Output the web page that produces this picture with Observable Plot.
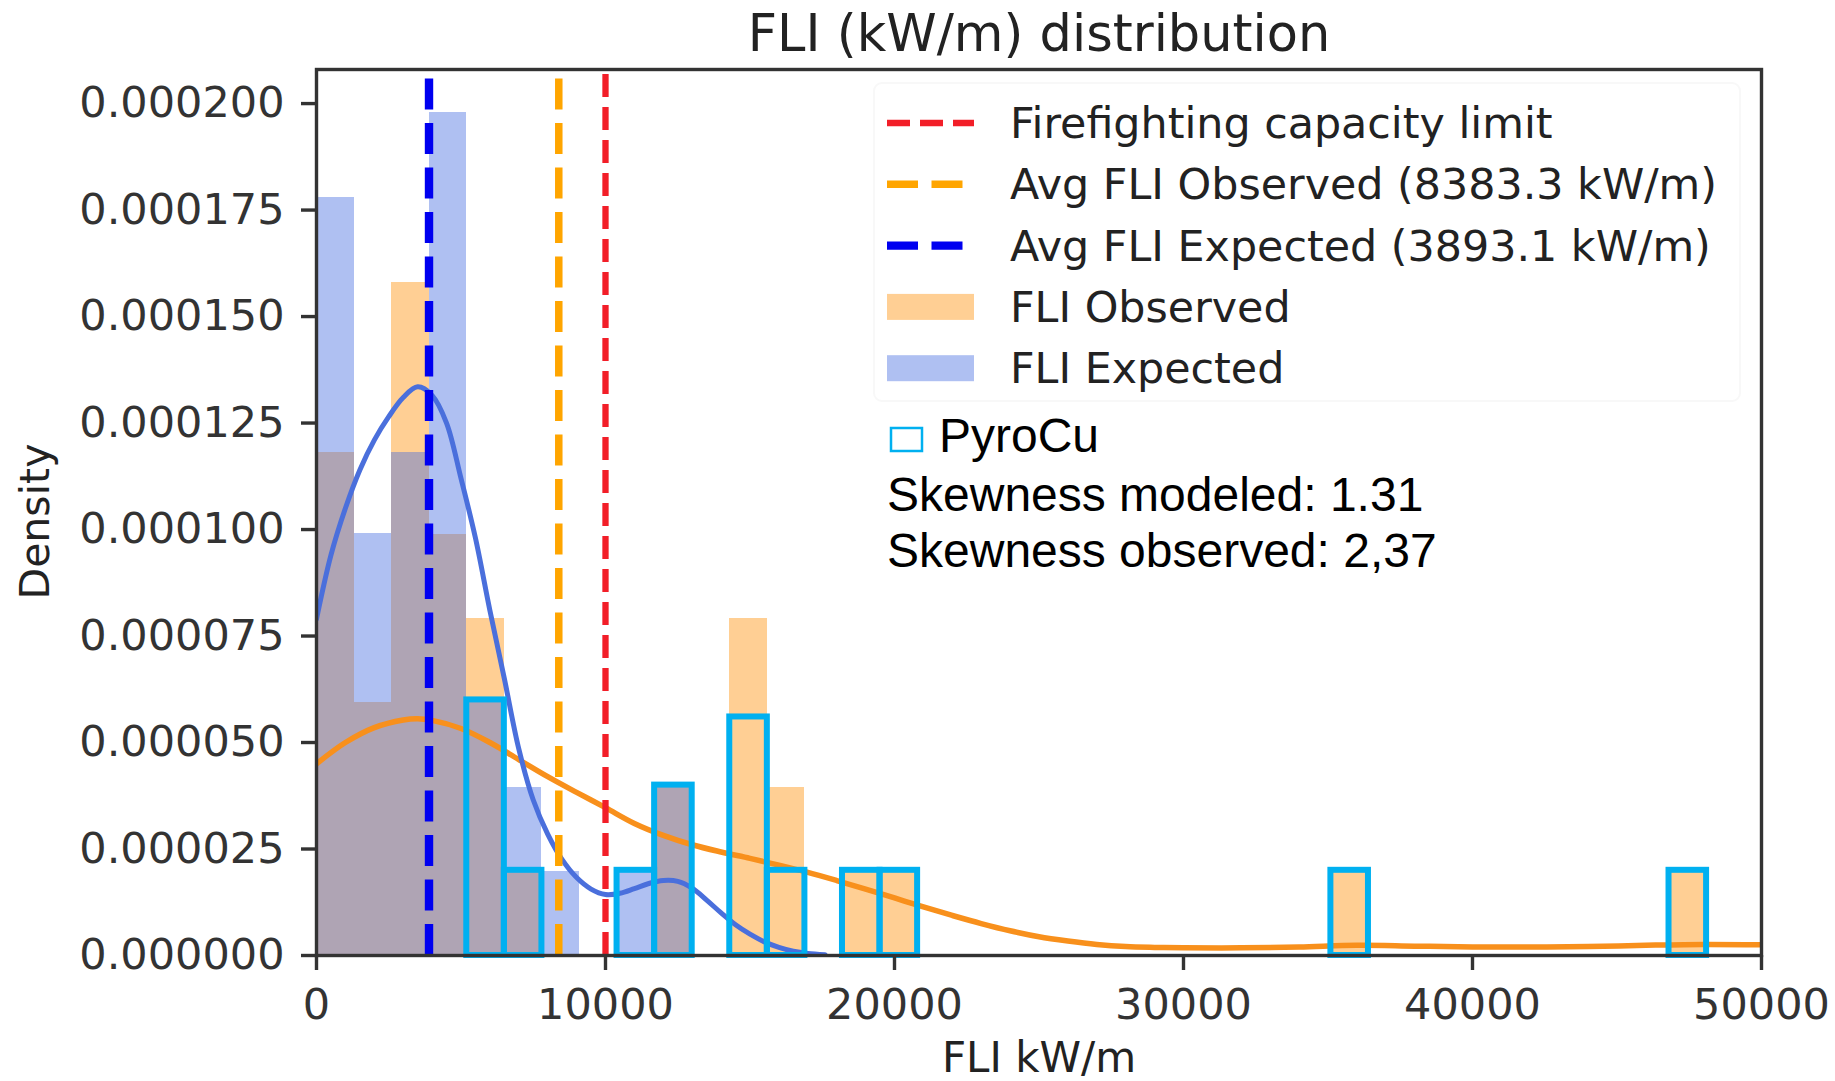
<!DOCTYPE html>
<html><head><meta charset="utf-8">
<script src="https://cdn.jsdelivr.net/npm/d3@7"></script>
<script src="https://cdn.jsdelivr.net/npm/@observablehq/plot@0.6"></script>
<style>html,body{margin:0;padding:0;background:#fff;}#chart svg{display:block;}</style>
</head><body><div id="chart"></div>
<script>
// ---- data ----
const title = "FLI (kW/m) distribution";
const xLabel = "FLI kW/m";
const yLabel = "Density";
const xTicks = [0, 10000, 20000, 30000, 40000, 50000];
const yTicks = [0, 0.000025, 0.00005, 0.000075, 0.0001, 0.000125, 0.00015, 0.000175, 0.0002];
const xDomain = [0, 50000];
const yDomain = [0, 0.000208];

// Observed histogram (density)
const obsBinLeft  = [0, 1300, 2600, 3900, 5200, 6500, 11700, 14300, 15600, 18200, 19500, 35100, 46800];
const obsBinRight = [1300, 2600, 3900, 5200, 6500, 7800, 13000, 15600, 16900, 19500, 20800, 36400, 48100];
const obsDensity  = [0.000118, 0.0000593, 0.000158, 0.0000988, 0.0000790, 0.0000198, 0.0000395, 0.0000790, 0.0000395, 0.0000198, 0.0000198, 0.0000198, 0.0000198];

// Expected histogram (density)
const expBinLeft  = [0, 1300, 2600, 3900, 5200, 6500, 7800, 10400, 11700];
const expBinRight = [1300, 2600, 3900, 5200, 6500, 7800, 9100, 11700, 13000];
const expDensity  = [0.000178, 0.0000990, 0.000118, 0.000198, 0.0000593, 0.0000395, 0.0000198, 0.0000198, 0.0000395];

// PyroCu boxes
const pyroLeft  = [5200, 6500, 10400, 11700, 14300, 15600, 18200, 19500, 35100, 46800];
const pyroRight = [6500, 7800, 11700, 13000, 15600, 16900, 19500, 20800, 36400, 48100];
const pyroDensity = [0.000060, 0.000020, 0.000020, 0.000040, 0.000056, 0.000020, 0.000020, 0.000020, 0.000020, 0.000020];

// KDE curves
const kdeObsX = [0, 1000, 2000, 3000, 3500, 4000, 5000, 6000, 7000, 8000, 9000, 10000, 11000, 12000, 13000, 14000, 15000, 16000, 17000, 18000, 19000, 20000, 21000, 22000, 23000, 24000, 25000, 26000, 27000, 28000, 29000, 30000, 32000, 34000, 36000, 38000, 40000, 42000, 44000, 46000, 48000, 50000];
const kdeObsY = [45e-6, 50e-6, 53.5e-6, 55.3e-6, 55.6e-6, 55.2e-6, 53.3e-6, 50e-6, 46e-6, 42e-6, 38.3e-6, 34.7e-6, 31e-6, 28.2e-6, 26e-6, 24.3e-6, 22.8e-6, 21.2e-6, 19.5e-6, 17.6e-6, 15.6e-6, 13.5e-6, 11.4e-6, 9.4e-6, 7.5e-6, 5.8e-6, 4.4e-6, 3.4e-6, 2.6e-6, 2.1e-6, 1.9e-6, 1.8e-6, 1.8e-6, 2.0e-6, 2.4e-6, 2.2e-6, 2.0e-6, 2.0e-6, 2.1e-6, 2.4e-6, 2.6e-6, 2.5e-6];
const kdeExpX = [0, 500, 1000, 1500, 2000, 2500, 3000, 3500, 4000, 4500, 5000, 5500, 6000, 6500, 7000, 7500, 8000, 8500, 9000, 9500, 10000, 10500, 11000, 11500, 12000, 12500, 13000, 13500, 14000, 14500, 15000, 15500, 16000, 16500, 17000, 17600];
const kdeExpY = [79e-6, 94e-6, 105e-6, 114e-6, 121e-6, 126.5e-6, 131e-6, 133.5e-6, 131.5e-6, 125e-6, 112e-6, 98e-6, 81e-6, 65e-6, 48.5e-6, 36.5e-6, 28.5e-6, 22.5e-6, 18.3e-6, 15.6e-6, 14.3e-6, 14.6e-6, 15.7e-6, 16.9e-6, 17.6e-6, 17.4e-6, 15.8e-6, 13e-6, 10e-6, 7.2e-6, 5e-6, 3.2e-6, 1.9e-6, 1.0e-6, 0.5e-6, 0.2e-6];

// Reference lines
const capacityLimit = 10000;
const avgObserved = 8383.3;
const avgExpected = 3893.1;

// Legend & annotation texts
const legendLabels = ["Firefighting capacity limit", "Avg FLI Observed (8383.3 kW/m)", "Avg FLI Expected (3893.1 kW/m)", "FLI Observed", "FLI Expected"];
const annotLabels = ["PyroCu", "Skewness modeled: 1.31", "Skewness observed: 2,37"];

// ---- styles ----
const orangeFill = "#ff8c00", blueFill = "#4169e1", histOpacity = 0.42;
const orangeLine = "#f8901c", blueLine = "#4a6fdc";
const pyroColor = "#00b0f0";
const axisColor = "#333";

const toRows = (l, r, d) => l.map((v, i) => ({x1: v, x2: r[i], y: d[i]}));
const toPts = (xs, ys) => xs.map((v, i) => ({x: v, y: ys[i]}));

const obsRows = toRows(obsBinLeft, obsBinRight, obsDensity);
const expRows = toRows(expBinLeft, expBinRight, expDensity);
const pyroRows = toRows(pyroLeft, pyroRight, pyroDensity);

const chart = Plot.plot({
  width: 1835, height: 1081,
  marginLeft: 316, marginRight: 74, marginTop: 69, marginBottom: 126,
  style: {fontFamily: "DejaVu Sans", fontSize: "43px", color: "#222", background: "white", overflow: "visible"},
  x: {domain: xDomain},
  y: {domain: yDomain},
  marks: [
    Plot.rectY(obsRows, {x1: "x1", x2: "x2", y: "y", fill: orangeFill, fillOpacity: histOpacity, shapeRendering: "crispEdges"}),
    Plot.rectY(expRows, {x1: "x1", x2: "x2", y: "y", fill: blueFill, fillOpacity: histOpacity, shapeRendering: "crispEdges"}),
    Plot.line(toPts(kdeObsX, kdeObsY), {x: "x", y: "y", stroke: orangeLine, strokeWidth: 5.5, curve: "catmull-rom", clip: true}),
    Plot.line(toPts(kdeExpX, kdeExpY), {x: "x", y: "y", stroke: blueLine, strokeWidth: 5, curve: "catmull-rom", clip: true}),
    Plot.ruleX([capacityLimit], {x: d => d, y1: yDomain[0], y2: yDomain[1], stroke: "#f21e28", strokeWidth: 6.3, strokeDasharray: "23,10"}),
    Plot.ruleX([avgObserved], {x: d => d, y1: yDomain[0], y2: yDomain[1], stroke: "#ffa500", strokeWidth: 7.5, strokeDasharray: "31,13.5"}),
    Plot.ruleX([avgExpected], {x: d => d, y1: yDomain[0], y2: yDomain[1], stroke: "#0000f0", strokeWidth: 8.4, strokeDasharray: "31,13.5"}),
    Plot.rect(pyroRows, {x1: "x1", x2: "x2", y1: 0, y2: "y", fill: "none", stroke: pyroColor, strokeWidth: 6}),
    Plot.frame({stroke: axisColor, strokeWidth: 3.4}),
    Plot.axisX(xTicks, {tickSize: 15, tickPadding: 18, strokeWidth: 3.4, stroke: axisColor, fill: "#333", label: null, tickFormat: d => String(d)}),
    Plot.axisY(yTicks, {tickSize: 15, tickPadding: 17, strokeWidth: 3.4, stroke: axisColor, fill: "#333", label: null, tickFormat: d => d.toFixed(6)}),
    Plot.text([title], {frameAnchor: "top", dy: -19, lineAnchor: "bottom", textAnchor: "middle", fontSize: 51, fill: "#222"}),
    Plot.text([xLabel], {frameAnchor: "bottom", dy: 116, lineAnchor: "bottom", textAnchor: "middle", fontSize: 42, fill: "#222"}),
    Plot.text([yLabel], {frameAnchor: "left", dx: -281, dy: 9, rotate: -90, textAnchor: "middle", fontSize: 41, fill: "#222"})
  ]
});
document.getElementById("chart").appendChild(chart);

// ---- legend (matplotlib style, inside the axes) ----
const svg = d3.select(chart);
const lg = svg.append("g").attr("text-anchor", "start");
lg.append("rect").attr("x", 874).attr("y", 83).attr("width", 866).attr("height", 318).attr("rx", 8)
  .attr("fill", "white").attr("fill-opacity", 0.8).attr("stroke", "#f8f8f8").attr("stroke-width", 2);
const legendStyles = [
  {type: "line", stroke: "#f21e28", width: 6.3, dash: "23,10"},
  {type: "line", stroke: "#ffa500", width: 7.5, dash: "31,13.5"},
  {type: "line", stroke: "#0000f0", width: 8.4, dash: "31,13.5"},
  {type: "patch", fill: orangeFill},
  {type: "patch", fill: blueFill}
];
const rowTop = 123, rowGap = 61.3, sampleX0 = 887, sampleX1 = 974, textX = 1010;
legendLabels.forEach((label, i) => {
  const cy = rowTop + i * rowGap;
  const s = legendStyles[i];
  if (s.type === "line") {
    lg.append("line").attr("x1", sampleX0).attr("x2", sampleX1).attr("y1", cy).attr("y2", cy)
      .attr("stroke", s.stroke).attr("stroke-width", s.width).attr("stroke-dasharray", s.dash);
  } else {
    lg.append("rect").attr("x", sampleX0).attr("y", cy - 13).attr("width", sampleX1 - sampleX0).attr("height", 26)
      .attr("fill", s.fill).attr("fill-opacity", histOpacity);
  }
  lg.append("text").attr("x", textX).attr("y", cy + 15).attr("text-anchor", "start")
    .attr("font-family", "DejaVu Sans").attr("font-size", 42.8).attr("fill", "#222").text(label);
});

// ---- PyroCu annotation ----
const an = svg.append("g").attr("text-anchor", "start").attr("font-family", "Liberation Sans, Arial, sans-serif").attr("font-size", 48).attr("fill", "#000");
an.append("rect").attr("x", 891).attr("y", 428).attr("width", 31).attr("height", 23)
  .attr("fill", "none").attr("stroke", pyroColor).attr("stroke-width", 2.5);
an.append("text").attr("x", 939).attr("y", 452).attr("text-anchor", "start").text(annotLabels[0]);
an.append("text").attr("x", 887).attr("y", 511).attr("text-anchor", "start").text(annotLabels[1]);
an.append("text").attr("x", 887).attr("y", 567).attr("text-anchor", "start").text(annotLabels[2]);
</script></body></html>
